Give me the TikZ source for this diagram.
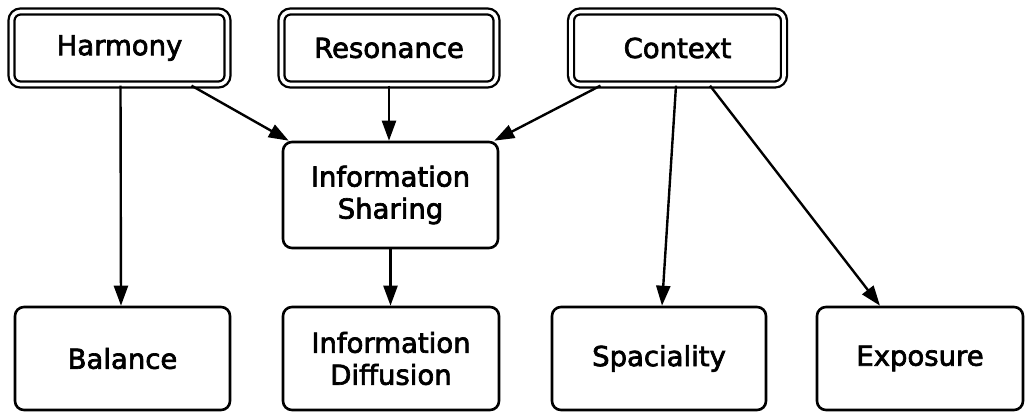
\documentclass[tikz,border=0pt]{standalone}
\usepackage{fontspec}
\setmainfont[FakeBold=2.5]{DejaVu Sans}
\usetikzlibrary{arrows.meta}
\begin{document}
\begin{tikzpicture}[x=1pt,y=-1pt,
  every node/.style={font=\fontsize{27.5}{32}\selectfont, align=center, inner sep=0pt},
  dbox/.style={draw, rounded corners=9pt, line width=2.3pt, double, double distance=3.6pt,
               minimum width=#1, minimum height=73pt},
  sbox/.style={draw, rounded corners=9pt, line width=2.6pt, minimum width=#1},
  arr/.style={line width=2.4pt, -{Triangle[length=20pt,width=14pt]}}]
\useasboundingbox (0,0) rectangle (1028,412);
% top row: double-framed sources
\node[dbox=216pt] (harm) at (119.5,48) {Harmony};
\node[dbox=215pt] (reso) at (389,48) {Resonance};
\node[dbox=213pt] (ctx)  at (677.5,48) {Context};
% middle
\node[sbox=215pt, minimum height=106pt] (share) at (390.5,195) {Information\\Sharing};
% bottom row
\node[sbox=215pt, minimum height=103pt] (bal)  at (122.5,358.5) {Balance};
\node[sbox=216pt, minimum height=103pt] (diff) at (391,358.5) {Information\\Diffusion};
\node[sbox=214pt, minimum height=103pt] (spac) at (659,358.5) {Spaciality};
\node[sbox=206pt, minimum height=103pt] (expo) at (920,358.5) {Exposure};
% connectors
\draw[arr] ([xshift=1pt]harm.south) -- ([xshift=-1.5pt]bal.north);
\draw[arr] ([xshift=72pt]harm.south) -- ([xshift=7pt]share.north west);
\draw[arr] (reso.south) -- (reso.south |- share.north);
\draw[arr] ([xshift=-77pt]ctx.south) -- ([xshift=-5pt]share.north east);
\draw[arr] (share.south) -- (share.south |- diff.north);
\draw[arr] ([xshift=-1.5pt]ctx.south) -- ([xshift=3pt]spac.north);
\draw[arr] ([xshift=32.5pt]ctx.south) -- ([xshift=-40pt]expo.north);
\end{tikzpicture}
\end{document}
